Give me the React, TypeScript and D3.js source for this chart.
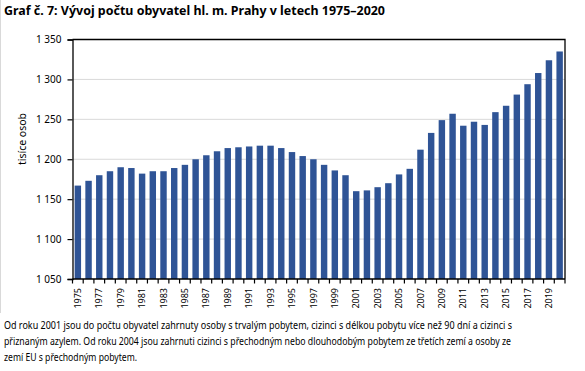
import React, { useEffect, useRef } from "react";
import * as d3 from "d3";

// years 1975–2020
const years: number[] = [
  1975, 1976, 1977, 1978, 1979, 1980, 1981, 1982, 1983, 1984,
  1985, 1986, 1987, 1988, 1989, 1990, 1991, 1992, 1993, 1994,
  1995, 1996, 1997, 1998, 1999, 2000, 2001, 2002, 2003, 2004,
  2005, 2006, 2007, 2008, 2009, 2010, 2011, 2012, 2013, 2014,
  2015, 2016, 2017, 2018, 2019, 2020,
];

// population in thousands
const population: number[] = [
  1167, 1173, 1180, 1185, 1190, 1189, 1182, 1185, 1185, 1189,
  1193, 1200, 1205, 1210, 1214, 1215, 1216, 1217, 1217, 1214,
  1209, 1204, 1200, 1193, 1186, 1180, 1160, 1161, 1165, 1170,
  1181, 1188, 1212, 1233, 1249, 1257, 1242, 1247, 1243, 1259,
  1267, 1281, 1294, 1308, 1324, 1335,
];

const yTicks: number[] = [1050, 1100, 1150, 1200, 1250, 1300, 1350];

const title = "Graf č. 7: Vývoj počtu obyvatel hl. m. Prahy v letech 1975–2020";
const yTitle = "tisíce osob";
const footnote: string[] = [
  "Od roku 2001 jsou do počtu obyvatel zahrnuty osoby s trvalým pobytem, cizinci s délkou pobytu více než 90 dní a cizinci s",
  "přiznaným azylem. Od roku 2004 jsou zahrnuti cizinci s přechodným nebo dlouhodobým pobytem ze třetích zemí a osoby ze",
  "zemí EU s přechodným pobytem.",
];

const W = 585;
const H = 371;
const font = "'Noto Sans', 'DejaVu Sans', sans-serif";

export default function App() {
  const svgRef = useRef<SVGSVGElement>(null);

  useEffect(() => {
    const svg = d3.select(svgRef.current);
    svg.selectAll("*").remove();

    const m = { top: 39.5, right: 20, bottom: 92, left: 72.5 };
    const x0 = m.left;
    const x1 = W - m.right;
    const yTop = m.top;
    const yBot = H - m.bottom;

    const x = d3
      .scaleBand<number>()
      .domain(years)
      .range([x0, x1])
      .paddingInner(0.4)
      .paddingOuter(0.2);

    const y = d3.scaleLinear().domain([1050, 1350]).range([yBot, yTop]);

    // faint outer frame on the left
    svg
      .append("line")
      .attr("x1", 0.5)
      .attr("x2", 0.5)
      .attr("y1", 0)
      .attr("y2", 313)
      .attr("stroke", "#d9d9d9");

    // title
    svg
      .append("text")
      .attr("x", 4)
      .attr("y", 15)
      .attr("font-family", font)
      .attr("font-weight", "bold")
      .attr("font-size", 12.5)
      .attr("textLength", 381)
      .attr("lengthAdjust", "spacingAndGlyphs")
      .attr("fill", "#000")
      .text(title);

    // gridlines
    svg
      .append("g")
      .selectAll("line")
      .data(yTicks.filter((t) => t > 1050 && t < 1350))
      .join("line")
      .attr("x1", x0)
      .attr("x2", x1)
      .attr("y1", (d) => y(d))
      .attr("y2", (d) => y(d))
      .attr("stroke", "#d9d9d9")
      .attr("stroke-width", 1);

    // bars
    svg
      .append("g")
      .selectAll("rect")
      .data(years)
      .join("rect")
      .attr("x", (d) => x(d)!)
      .attr("width", x.bandwidth())
      .attr("y", (d, i) => y(population[i]))
      .attr("height", (d, i) => yBot - y(population[i]))
      .attr("fill", "#2f5496");

    // frame: top and right
    svg
      .append("path")
      .attr("d", `M${x0},${yTop}H${x1}V${yBot}`)
      .attr("fill", "none")
      .attr("stroke", "#000")
      .attr("stroke-width", 1.3);

    // y axis
    const yAxis = svg
      .append("g")
      .attr("transform", `translate(${x0},0)`)
      .call(d3.axisLeft(y).tickValues(yTicks).tickSize(5).tickPadding(6).tickFormat((d) => d3.format(",")(d as number).replace(",", " ")));
    yAxis.select(".domain").attr("stroke", "#000").attr("stroke-width", 1.3);
    yAxis.selectAll(".tick line").attr("stroke", "#000").attr("stroke-width", 1.2);
    yAxis
      .selectAll(".tick text")
      .attr("font-family", font)
      .attr("font-size", 10)
      .attr("fill", "#000");

    // x axis line
    svg
      .append("line")
      .attr("x1", x0)
      .attr("x2", x1)
      .attr("y1", yBot)
      .attr("y2", yBot)
      .attr("stroke", "#000")
      .attr("stroke-width", 1.3);

    // x ticks at band boundaries
    const step = x.step();
    svg
      .append("g")
      .selectAll("line")
      .data(d3.range(years.length + 1))
      .join("line")
      .attr("x1", (i) => x0 + i * step)
      .attr("x2", (i) => x0 + i * step)
      .attr("y1", yBot)
      .attr("y2", yBot + 4.5)
      .attr("stroke", "#000")
      .attr("stroke-width", 1.2);

    // x labels (every second year)
    svg
      .append("g")
      .selectAll("text")
      .data(years.filter((d) => d % 2 === 1))
      .join("text")
      .attr(
        "transform",
        (d) => `translate(${x(d)! + x.bandwidth() / 2},${yBot + 9}) rotate(-90)`
      )
      .attr("text-anchor", "end")
      .attr("dy", "0.35em")
      .attr("font-family", font)
      .attr("font-size", 9)
      .attr("fill", "#000")
      .text((d) => String(d));

    // y title
    svg
      .append("text")
      .attr("transform", `translate(22,139) rotate(-90)`)
      .attr("text-anchor", "middle")
      .attr("dy", "0.35em")
      .attr("font-family", font)
      .attr("font-size", 10.5)
      .attr("fill", "#000")
      .text(yTitle);

    // footnote
    const lens = [508, 507, 133];
    svg
      .append("g")
      .selectAll("text")
      .data(footnote)
      .join("text")
      .attr("x", 4)
      .attr("y", (d, i) => 329 + i * 16)
      .attr("font-family", font)
      .attr("font-size", 10)
      .attr("textLength", (d, i) => lens[i])
      .attr("lengthAdjust", "spacingAndGlyphs")
      .attr("fill", "#000")
      .text((d) => d);
  }, []);

  return (
    <svg
      ref={svgRef}
      width={W}
      height={H}
      style={{ position: "absolute", left: 0, top: 0, background: "#fff" }}
    />
  );
}
